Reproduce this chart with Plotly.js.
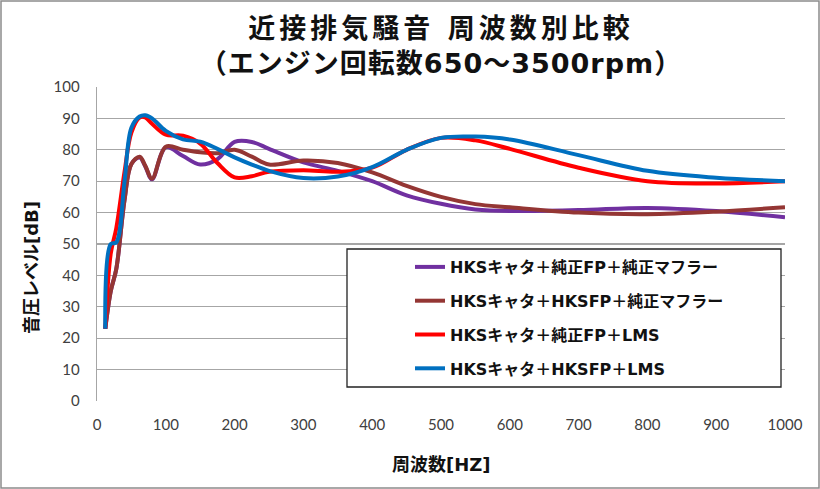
<!DOCTYPE html>
<html>
<head>
<meta charset="utf-8">
<script src="https://cdn.plot.ly/plotly-3.0.1.min.js"></script>
<style>
  body { margin: 0; background: #fff; }
  #chart { width: 820px; height: 489px; }
  .gtitle { letter-spacing: 1px; }
  .gtitle tspan.line:first-of-type { letter-spacing: 4px; }
</style>
</head>
<body>
<div id="chart"></div>
<script>
// frequency [Hz]
const freq = [12, 20, 28, 40, 50, 62, 70, 80, 100, 125, 150, 175, 200, 225, 250, 300, 350, 400, 450, 500, 550, 600, 700, 800, 900, 1000];

// sound level [dB] per setup
const stockFpStockMuffler = [23, 35, 42, 64, 75.5, 77.5, 74.8, 70.6, 80.8, 78, 75.3, 77, 82.5, 82.5, 80.3, 76, 73.3, 70, 65.5, 62.8, 61, 60.5, 60.8, 61.5, 60.5, 58.5];
const hksFpStockMuffler   = [23, 35, 42, 64, 75.5, 77.8, 75, 70.8, 81, 80, 79.2, 78.9, 80, 77.8, 75.3, 76.6, 75.8, 72.8, 68.5, 65, 62.7, 61.7, 60, 59.5, 60.3, 61.7];
const stockFpLms          = [23, 47, 55, 73, 85.5, 90.3, 90.3, 88.3, 84.8, 84.5, 82, 75.8, 71.2, 71.6, 73, 73.5, 73, 74.3, 80, 83.8, 83, 80.3, 74.3, 70, 69.3, 70];
const hksFpLms            = [23, 50, 50.5, 70, 87, 90.6, 91, 90, 86, 83.3, 82.6, 80.3, 77.6, 75.3, 73.3, 71, 71.5, 74.5, 80, 83.8, 84.2, 83.3, 78.3, 73.3, 71.1, 70];

const names = [
  'HKSキャタ＋純正FP＋純正マフラー',
  'HKSキャタ＋HKSFP＋純正マフラー',
  'HKSキャタ＋純正FP＋LMS',
  'HKSキャタ＋HKSFP＋LMS'
];
const colors = ['#7030A0', '#943634', '#FF0000', '#0070C0'];
const series = [stockFpStockMuffler, hksFpStockMuffler, stockFpLms, hksFpLms];

const jp = '"DejaVu Sans", "Noto Sans CJK JP", sans-serif';
const tickFont = {family: 'Lato, "Open Sans", sans-serif', size: 15, color: '#404040'};

const traces = series.map((ys, i) => ({
  type: 'scatter', mode: 'lines', name: names[i],
  x: freq, y: ys,
  line: {color: colors[i], width: 4, shape: 'spline', smoothing: 1},
  legendgroup: 'g' + i,
}));

const M = {l: 97, r: 35, t: 87, b: 88};
const pw = 820 - M.l - M.r, ph = 489 - M.t - M.b;
const px = v => (v - M.l) / pw;          // page x -> paper
const py = v => (489 - M.b - v) / ph;    // page y -> paper

const layout = {
  width: 820, height: 489,
  margin: M,
  paper_bgcolor: '#fff', plot_bgcolor: '#fff',
  showlegend: true,
  title: {
    text: '近接排気騒音 周波数別比較<br>（エンジン回転数650～3500rpm）',
    font: {family: jp, size: 27, color: '#111', weight: 'bold'},
    x: 441 / 820, xanchor: 'center',
    y: 1 - 38 / 489, yanchor: 'top', yref: 'container'
  },
  xaxis: {
    range: [0, 1000], dtick: 100, tick0: 0,
    showgrid: false, zeroline: false,
    showline: false, ticks: '',
    tickfont: tickFont, ticklabelstandoff: 13
  },
  yaxis: {
    range: [0, 100], dtick: 10, tick0: 0,
    showgrid: true, gridcolor: '#a6a6a6', gridwidth: 1.3,
    zeroline: false, showline: true, linecolor: '#a6a6a6', linewidth: 1.3,
    ticks: '', tickfont: tickFont, ticklabelstandoff: 13
  },
  legend: {
    x: px(410), xanchor: 'left', y: py(250), yanchor: 'top',
    bgcolor: 'rgba(0,0,0,0)', borderwidth: 0,
    font: {family: jp, size: 16, color: '#111', weight: 'bold'},
    tracegroupgap: 10
  },
  annotations: [
    {text: '周波数[HZ]', xref: 'paper', yref: 'paper', x: px(441), y: py(464),
     xanchor: 'center', yanchor: 'middle', showarrow: false,
     font: {family: jp, size: 18, color: '#111', weight: 'bold'}},
    {text: '音圧レベル[dB]', xref: 'paper', yref: 'paper', x: px(31), y: py(268),
     xanchor: 'center', yanchor: 'middle', showarrow: false, textangle: -90,
     font: {family: jp, size: 18, color: '#111', weight: 'bold'}}
  ],
  shapes: [
    {type: 'rect', xref: 'paper', yref: 'paper', layer: 'above',
     x0: px(347), x1: px(781), y0: py(387), y1: py(249),
     line: {color: '#222', width: 1.3}, fillcolor: '#fff'},
    {type: 'rect', xref: 'paper', yref: 'paper', layer: 'above',
     x0: px(1), x1: px(819), y0: py(488), y1: py(1),
     line: {color: '#8c8c8c', width: 1.5}, fillcolor: 'rgba(0,0,0,0)'}
  ]
};

Plotly.newPlot('chart', traces, layout, {displayModeBar: false, staticPlot: true});
</script>
</body>
</html>
